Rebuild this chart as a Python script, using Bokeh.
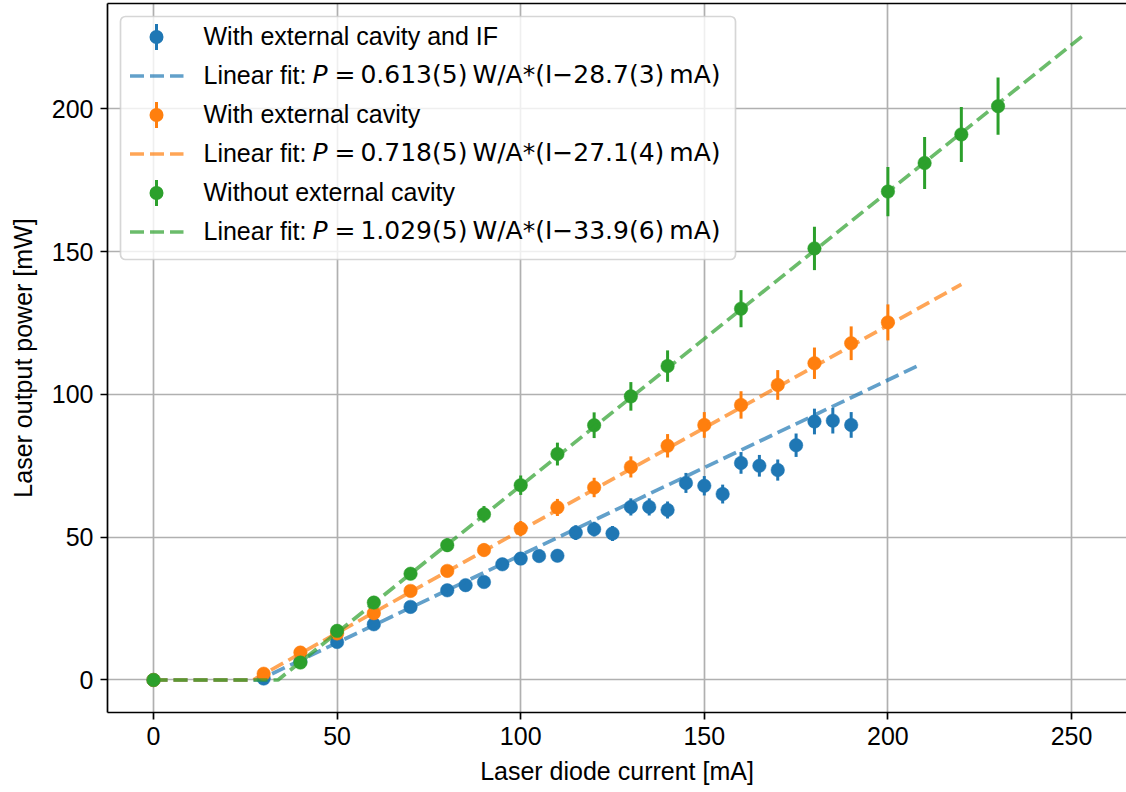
import numpy as np
from bokeh.plotting import figure
from bokeh.models import (Range1d, FixedTicker, LinearAxis, BoxAnnotation, Label,
                          Arrow, ColumnDataSource)
from bokeh.embed import file_html
from bokeh.resources import INLINE

# ---------------- data ----------------
blue_I = [0, 30, 40, 50, 60, 70, 80, 85, 90, 95, 100, 105, 110, 115, 120, 125,
          130, 135, 140, 145, 150, 155, 160, 165, 170, 175, 180, 185, 190]
blue_P = [0, 0.5, 6.5, 13.3, 19.5, 25.6, 31.4, 33.2, 34.3, 40.5, 42.5, 43.4, 43.5,
          51.6, 52.8, 51.3, 60.6, 60.6, 59.5, 69.0, 68.0, 65.1, 76.0, 75.0, 73.5,
          82.2, 90.5, 90.8, 89.3]
blue_err = [0, 0.0, 0.3, 0.7, 1.0, 1.3, 1.6, 1.7, 1.7, 2.0, 2.1, 2.2, 2.2, 2.6, 2.6,
            2.6, 3.0, 3.0, 3.0, 3.5, 3.4, 3.3, 3.8, 3.8, 3.7, 4.1, 4.5, 4.5, 4.5]

orange_I = [0, 30, 40, 50, 60, 70, 80, 90, 100, 110, 120, 130, 140, 150, 160, 170,
            180, 190, 200]
orange_P = [0, 2.2, 9.6, 16.3, 23.4, 31.2, 38.2, 45.5, 53.0, 60.4, 67.4, 74.6, 82.0,
            89.3, 96.3, 103.3, 110.9, 117.9, 125.2]
orange_err = [0, 0.1, 0.5, 0.8, 1.2, 1.6, 1.9, 2.3, 2.7, 3.0, 3.4, 3.7, 4.1, 4.5,
              4.8, 5.2, 5.5, 5.9, 6.3]

green_I = [0, 40, 50, 60, 70, 80, 90, 100, 110, 120, 130, 140, 160, 180, 200, 210,
           220, 230]
green_P = [0, 6.1, 17.2, 27.1, 37.2, 47.2, 58.0, 68.2, 79.1, 89.2, 99.3, 109.9, 130.0,
           151.1, 171.0, 181.0, 191.0, 200.9]
green_err = [0, 0.3, 0.9, 1.4, 1.9, 2.4, 2.9, 3.4, 4.0, 4.5, 5.0, 5.5, 6.5, 7.6, 8.6,
             9.1, 9.6, 10.0]

# linear fit parameters: slope [W/A = mW/mA], threshold [mA]
fit_slope = [0.613, 0.718, 1.029]
fit_thresh = [28.7, 27.1, 33.9]

series_names = ["With external cavity and IF", "With external cavity",
                "Without external cavity"]
fit_texts = ["=\u20090.613(5)\u2009W/A*(I\u221228.7(3)\u2009mA)",
             "=\u20090.718(5)\u2009W/A*(I\u221227.1(4)\u2009mA)",
             "=\u20091.029(5)\u2009W/A*(I\u221233.9(6)\u2009mA)"]
colors = ["#1f77b4", "#ff7f0e", "#2ca02c"]

x_ticks = [0, 50, 100, 150, 200, 250]
y_ticks = [0, 50, 100, 150, 200]

FONT = "Liberation Sans"
MATHFONT = "DejaVu Sans"
FS = "25px"

# ---------------- figure ----------------
p = figure(width=1126, height=792,
           x_range=Range1d(-12.53, 264.98), y_range=Range1d(-11.38, 236.85),
           output_backend="svg", toolbar_location=None,
           min_border_left=107, min_border_right=0, min_border_top=3,
           min_border_bottom=80,
           x_axis_label="Laser diode current [mA]",
           y_axis_label="Laser output power [mW]")
p.outline_line_color = None
p.background_fill_color = "white"
p.border_fill_color = "white"

for ax, ticks in ((p.xaxis[0], x_ticks), (p.yaxis[0], y_ticks)):
    ax.ticker = FixedTicker(ticks=ticks)
    ax.axis_line_color = "black"
    ax.axis_line_width = 1.7
    ax.major_tick_line_color = "black"
    ax.major_tick_line_width = 1.7
    ax.major_tick_out = 7
    ax.major_tick_in = 0
    ax.minor_tick_line_color = None
    ax.major_label_text_font = FONT
    ax.major_label_text_font_size = FS
    ax.major_label_text_color = "black"
    ax.major_label_standoff = 7
    ax.axis_label_text_font = FONT
    ax.axis_label_text_font_size = FS
    ax.axis_label_text_font_style = "normal"
    ax.axis_label_text_color = "black"
p.xaxis[0].axis_label_standoff = 9
p.yaxis[0].axis_label_standoff = 12

top = LinearAxis(ticker=FixedTicker(ticks=[]), axis_line_color="black",
                 axis_line_width=1.7, major_tick_out=0, major_tick_in=0,
                 minor_tick_out=0, minor_tick_in=0, major_label_standoff=0,
                 major_label_text_font_size="0px")
p.add_layout(top, "above")

for g in p.grid:
    g.grid_line_color = "#b0b0b0"
    g.grid_line_width = 1.7
p.xgrid[0].ticker = FixedTicker(ticks=x_ticks)
p.ygrid[0].ticker = FixedTicker(ticks=y_ticks)

# ---------------- data glyphs ----------------
all_I = [blue_I, orange_I, green_I]
all_P = [blue_P, orange_P, green_P]
all_E = [blue_err, orange_err, green_err]

for k in range(3):
    I = np.array(all_I[k], dtype=float)
    P = np.array(all_P[k], dtype=float)
    E = np.array(all_E[k], dtype=float)
    src = ColumnDataSource(dict(I=I, P=P, lo=P - E, hi=P + E))
    p.segment(x0="I", y0="lo", x1="I", y1="hi", source=src,
              line_color=colors[k], line_width=3)
    p.scatter(x="I", y="P", source=src, size=13.5, marker="circle",
              fill_color=colors[k], line_color=colors[k], line_width=0.5)
    i_end = 1.1 * I.max()
    fx = [0.0, fit_thresh[k], i_end]
    fy = [0.0, 0.0, fit_slope[k] * (i_end - fit_thresh[k])]
    p.line(fx, fy, line_color=colors[k], line_alpha=0.7, line_width=3.7,
           line_dash="14 6")

# ---------------- legend (canvas units) ----------------
p.add_layout(BoxAnnotation(left=120, right=735, top=16, bottom=259,
                           left_units="canvas", right_units="canvas",
                           top_units="canvas", bottom_units="canvas",
                           fill_color="white", fill_alpha=0.8,
                           line_color="#cccccc", line_alpha=0.8, line_width=1.7,
                           border_radius=5))

row0, drow = 36.5, 39
dy_text = -1.5
for k in range(3):
    yc = row0 + drow * (2 * k)
    yf = row0 + drow * (2 * k + 1)
    # error-bar marker swatch
    p.add_layout(Arrow(end=None, x_start=156, y_start=yc - 13, x_end=156, y_end=yc + 13,
                       start_units="canvas", end_units="canvas",
                       line_color=colors[k], line_width=3))
    p.add_layout(BoxAnnotation(left=149, right=163, top=yc - 7, bottom=yc + 7,
                               left_units="canvas", right_units="canvas",
                               top_units="canvas", bottom_units="canvas",
                               fill_color=colors[k], fill_alpha=1.0,
                               line_color=None, border_radius=7))
    # fit line swatch
    p.add_layout(Arrow(end=None, x_start=129.5, y_start=yf, x_end=183, y_end=yf,
                       start_units="canvas", end_units="canvas",
                       line_color=colors[k], line_alpha=0.7, line_width=3.7,
                       line_dash="14 6"))
    # texts
    p.add_layout(Label(x=203, y=yc + dy_text, x_units="canvas", y_units="canvas",
                       text=series_names[k], text_font=FONT, text_font_size=FS,
                       text_color="black", text_baseline="alphabetic"))
    p.add_layout(Label(x=203, y=yf + dy_text, x_units="canvas", y_units="canvas",
                       text="Linear fit:", text_font=FONT, text_font_size=FS,
                       text_color="black", text_baseline="alphabetic"))
    p.add_layout(Label(x=312, y=yf + dy_text, x_units="canvas", y_units="canvas",
                       text="P", text_font=MATHFONT, text_font_size=FS,
                       text_font_style="italic",
                       text_color="black", text_baseline="alphabetic"))
    p.add_layout(Label(x=334, y=yf + dy_text, x_units="canvas", y_units="canvas",
                       text=fit_texts[k], text_font=MATHFONT, text_font_size=FS,
                       text_color="black", text_baseline="alphabetic"))

open("out.html", "w").write(file_html(p, INLINE))
